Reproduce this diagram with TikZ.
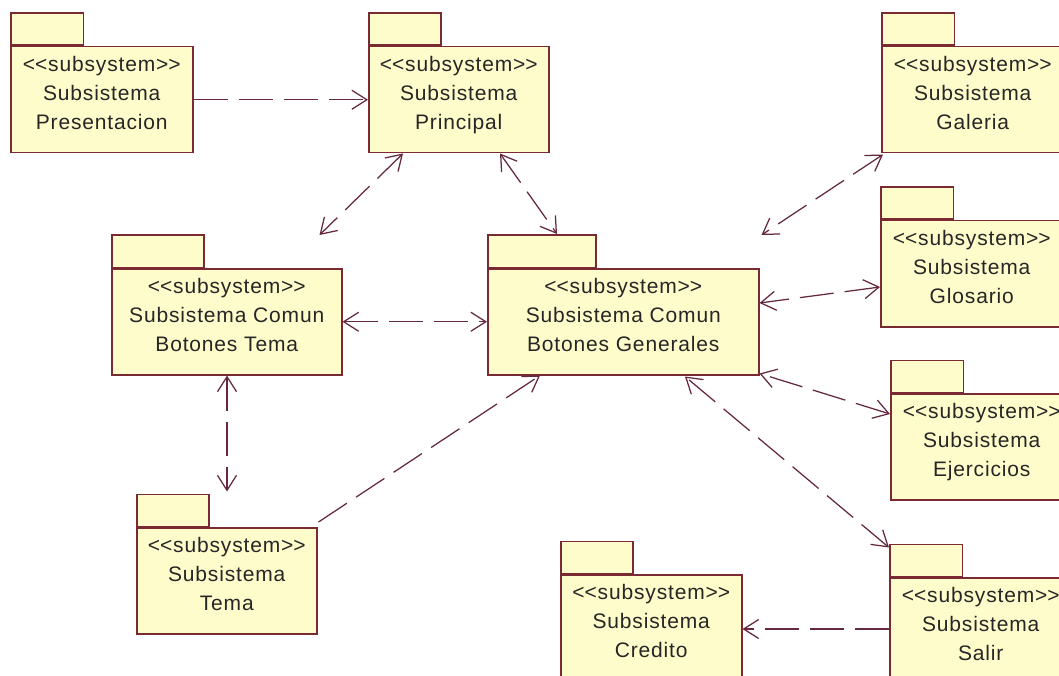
\documentclass[tikz,border=0pt]{standalone}
\usepackage{fontspec}
\newfontfamily\umlfont{Liberation Sans}[LetterSpace=4]
\usetikzlibrary{arrows.meta,calc}

\definecolor{pkgfill}{HTML}{FFFCCB}
\definecolor{pkgline}{HTML}{7A2A32}
\definecolor{depline}{HTML}{652840}
\definecolor{pkgtext}{HTML}{262626}

\tikzset{
  pkgbody/.style={draw=pkgline, fill=pkgfill, line width=1.5pt, inner sep=0pt,
                  minimum height=106pt, anchor=north west},
  pkgtab/.style={draw=pkgline, fill=pkgfill, line width=1.5pt, inner sep=0pt,
                 minimum height=32pt, anchor=south west},
  pkglabel/.style={inner sep=0pt, anchor=north, align=center, text=pkgtext,
                   font=\umlfont\fontsize{21}{29}\selectfont},
  dep/.style={draw=depline, line width=1.25pt, dash pattern=on 34pt off 11pt,
              >={Straight Barb[length=15pt,width=19pt]}},
}

% A UML package with the <<subsystem>> stereotype:
% name, left x, top of body y, body width, label lines
\newcommand\subsys[5]{%
  \node[pkgbody, minimum width=#4pt] (#1) at (#2,#3) {};
  \node[pkgtab, minimum width=0.4*#4pt] (#1-tab) at (#1.north west) {};
  \node[pkglabel] (#1-txt) at ([yshift=-5pt]#1.north)
    {\strut<\kern0pt<subsystem>\kern0pt>\\#5};
}

\begin{document}
\begin{tikzpicture}[x=1pt,y=-1pt]
\useasboundingbox (0,0) rectangle (1059,676);
\clip (0,0) rectangle (1059,676);
\fill[white] (0,0) rectangle (1059,676);

% packages
\subsys{pres}{10}{46}{182}{Subsistema\\Presentacion}
\subsys{princ}{368}{46}{180}{Subsistema\\Principal}
\subsys{gal}{881}{46}{182}{Subsistema\\Galeria}
\subsys{glos}{880}{220}{182}{Subsistema\\Glosario}
\subsys{ctema}{111}{268}{230}{Subsistema Comun\\Botones Tema}
\subsys{gen}{487}{268}{271}{Subsistema Comun\\Botones Generales}
\subsys{ejer}{890}{393}{182}{Subsistema\\Ejercicios}
\subsys{tema}{136}{527}{180}{Subsistema\\Tema}
\subsys{cred}{560}{574}{181}{Subsistema\\Credito}
\subsys{salir}{889}{577}{182}{Subsistema\\Salir}

% connector end points
\coordinate (princ-sw) at ($(princ.south west)+(35,0)$);
\coordinate (princ-se) at ($(princ.south west)+(132,0)$);
\coordinate (ctema-ne) at ($(ctema.north east)+(-23,-33)$);
\coordinate (gen-nw)   at ($(gen.north west)+(70,-34)$);
\coordinate (gen-ne)   at ($(gen.north east)+(2,-33)$);
\coordinate (gen-e)    at ($(gen.north east)+(0,35)$);
\coordinate (gen-se)   at ($(gen.south east)+(0,-2)$);
\coordinate (gen-s)    at ($(gen.south west)+(198,1)$);
\coordinate (gen-sw)   at ($(gen.south west)+(53,0)$);
\coordinate (gal-sw)   at ($(gal.south west)+(2,1)$);
\coordinate (glos-w)   at ($(glos.north west)+(0,67)$);
\coordinate (ejer-w)   at ($(ejer.north west)+(0,21)$);
\coordinate (salir-nw) at ($(salir-tab.north west)+(0,4)$);
\coordinate (salir-w)  at ($(salir.north west)+(0,52)$);
\coordinate (ctema-s)  at ($(ctema.south west)+(116,0)$);
\coordinate (tema-n)   at ($(tema-tab.north west)+(91,-2)$);
\coordinate (tema-ne)  at ($(tema.north east)+(1,-5)$);

% dependencies
\draw[dep,->]  (pres.east) -- (princ.west);
\draw[dep,<->] (princ-sw) -- (ctema-ne);
\draw[dep,<->] (princ-se) -- (gen-nw);
\draw[dep,<->] (gal-sw) -- (gen-ne);
\draw[dep,<->] (glos-w) -- (gen-e);
\draw[dep,<->] (ejer-w) -- (gen-se);
\draw[dep,<->] (salir-nw) -- (gen-s);
\draw[dep,<->] (ctema.east) -- (gen.west);
\draw[dep,<->] (ctema-s) -- (tema-n);
\draw[dep,->]  (tema-ne) -- (gen-sw);
\draw[dep,->]  (salir-w) -- (cred.east |- salir-w);
\end{tikzpicture}
\end{document}
